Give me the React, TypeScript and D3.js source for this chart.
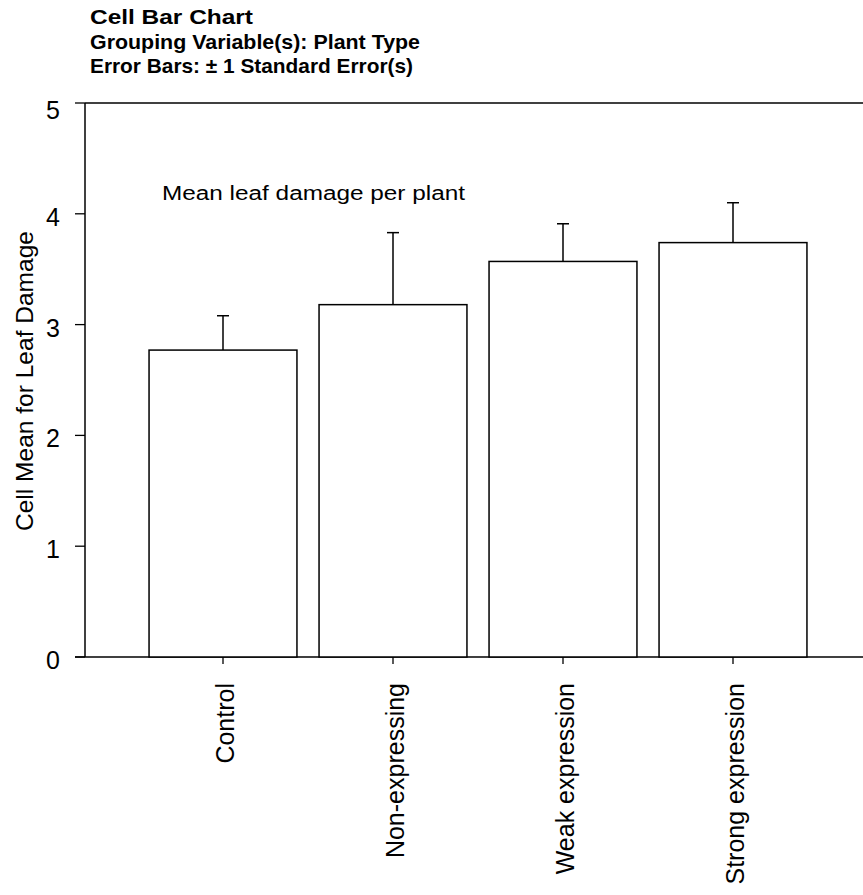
import React from "react";
import * as d3 from "d3";

const categories = ["Control", "Non-expressing", "Weak expression", "Strong expression"];
const means = [2.77, 3.18, 3.57, 3.74];
const stdErrors = [0.31, 0.65, 0.34, 0.36];
const yTicks = [0, 1, 2, 3, 4, 5];
const titleLines = [
  "Cell Bar Chart",
  "Grouping Variable(s): Plant Type",
  "Error Bars: \u00b1 1 Standard Error(s)",
];
const yAxisTitle = "Cell Mean for Leaf Damage";
const annotation = "Mean leaf damage per plant";

const W = 863;
const H = 895;
const FONT = "'Liberation Sans', Arial, Helvetica, sans-serif";

export default function App() {
  const axisX = 85;
  const plotRight = 863;
  const x = d3
    .scaleBand<string>()
    .domain(categories)
    .range([138, 818])
    .paddingInner(0.13)
    .paddingOuter(0.065);
  const y = d3.scaleLinear().domain([0, 5]).range([657, 103]);

  const titleWidths = [163, 330, 323];
  const titleBaselines = [24, 49, 73];
  const capW = 12;

  return (
    <svg
      width={W}
      height={H}
      style={{ position: "absolute", left: 0, top: 0, background: "#fff" }}
      fontFamily={FONT}
    >
      <rect x={0} y={0} width={W} height={H} fill="#fff" />
      {titleLines.map((t, i) => (
        <text
          key={t}
          x={90}
          y={titleBaselines[i]}
          fontSize={20.5}
          fontWeight="bold"
          textLength={titleWidths[i]}
          lengthAdjust="spacingAndGlyphs"
          fill="#000"
        >
          {t}
        </text>
      ))}

      {/* frame lines */}
      <line x1={axisX} x2={plotRight} y1={y(5)} y2={y(5)} stroke="#000" strokeWidth={1.3} />
      <line x1={axisX - 10} x2={plotRight} y1={y(0)} y2={y(0)} stroke="#000" strokeWidth={1.5} />
      <line x1={axisX} x2={axisX} y1={y(5)} y2={y(0)} stroke="#000" strokeWidth={1.5} />

      {/* y ticks */}
      {yTicks.map((t) => (
        <g key={t}>
          <line x1={axisX - 10} x2={axisX} y1={y(t)} y2={y(t)} stroke="#000" strokeWidth={1.3} />
          <text
            x={60}
            y={Math.max(y(t) + 3, y(5) + 7)}
            fontSize={25}
            textAnchor="end"
            dominantBaseline="central"
            fill="#000"
          >
            {t}
          </text>
        </g>
      ))}

      <text
        transform={`translate(33, ${(230 + 532) / 2}) rotate(-90)`}
        fontSize={24.5}
        textAnchor="middle"
        textLength={300}
        lengthAdjust="spacingAndGlyphs"
        fill="#000"
      >
        {yAxisTitle}
      </text>

      <text
        x={162}
        y={200}
        fontSize={20}
        textLength={303}
        lengthAdjust="spacingAndGlyphs"
        fill="#000"
      >
        {annotation}
      </text>

      {/* bars */}
      {categories.map((c, i) => {
        const x0 = x(c)!;
        const bw = x.bandwidth();
        const cx = x0 + bw / 2;
        const top = y(means[i]);
        const errTop = y(means[i] + stdErrors[i]);
        return (
          <g key={c}>
            <rect
              x={x0}
              y={top}
              width={bw}
              height={y(0) - top}
              fill="#fff"
              stroke="#000"
              strokeWidth={1.5}
            />
            <line x1={cx} x2={cx} y1={top} y2={errTop} stroke="#000" strokeWidth={1.5} />
            <line x1={cx - capW / 2} x2={cx + capW / 2} y1={errTop} y2={errTop} stroke="#000" strokeWidth={1.5} />
            <line x1={cx} x2={cx} y1={y(0)} y2={y(0) + 7} stroke="#000" strokeWidth={1.3} />
            <text
              transform={`translate(${cx + 11}, 683) rotate(-90)`}
              fontSize={25}
              textAnchor="end"
              fill="#000"
            >
              {c}
            </text>
          </g>
        );
      })}
    </svg>
  );
}
